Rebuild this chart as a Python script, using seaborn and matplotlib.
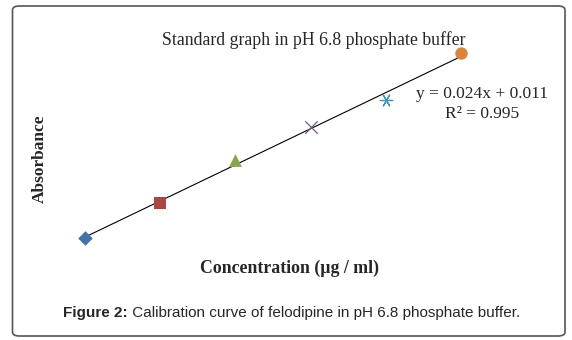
import numpy as np
import pandas as pd
import seaborn as sns
import matplotlib.pyplot as plt
from matplotlib.patches import FancyBboxPatch

# data
stezenie = [5, 10, 15, 20, 25, 30]
absorbancja = [0.128, 0.243, 0.384, 0.493, 0.581, 0.733]
kolory = ['#4572A7', '#AA4643', '#89A54E', '#71588F', '#4198AF', '#DB843D']
markery = ['D', 's', '^', 'x', (6, 2, 90), 'o']
rozmiary = [55, 85, 85, 80, 80, 80]

tytul = 'Standard graph in pH 6.8 phosphate buffer'
rownanie = 'y = 0.024x + 0.011\nR² = 0.995'
opis_x = 'Concentration (µg / ml)'
opis_y = 'Absorbance'
podpis_b = 'Figure 2:'
podpis = ' Calibration curve of felodipine in pH 6.8 phosphate buffer.'

df = pd.DataFrame({'conc': stezenie, 'abs': absorbancja})

sns.set_style('white')
plt.rcParams['font.family'] = ['Liberation Serif', 'DejaVu Serif']

fig = plt.figure(figsize=(5.72, 3.4), dpi=100)
ax = fig.add_axes([60 / 572, 1 - 250 / 340, 420 / 572, 220 / 340])

sns.regplot(data=df, x='conc', y='abs', ax=ax, scatter=False, ci=None, truncate=True,
            line_kws={'color': 'black', 'linewidth': 0.8})
for i in range(len(stezenie)):
    liniowy = markery[i] in ['x', (6, 2, 90)]
    sns.scatterplot(x=[stezenie[i]], y=[absorbancja[i]], ax=ax, marker=markery[i], color=kolory[i],
                    s=rozmiary[i], linewidth=0.9 if liniowy else 0, zorder=3)

ax.set_xlim(3.34, 31.26)
ax.set_ylim(0.0884, 0.810)
ax.set_xticks([])
ax.set_yticks([])
ax.set_xlabel('')
ax.set_ylabel('')
for s in ax.spines.values():
    s.set_visible(False)

fig.text(314 / 572, 1 - 40 / 340, tytul, ha='center', va='center', fontsize=12.8)
fig.text(482 / 572, 1 - 104 / 340, rownanie, ha='center', va='center', fontsize=12.5, linespacing=1.25)
fig.text(290 / 572, 1 - 268 / 340, opis_x, ha='center', va='center', fontsize=12.8, fontweight='bold')
fig.text(40 / 572, 1 - 159 / 340, opis_y, ha='center', va='center', fontsize=12.5, fontweight='bold',
         rotation=90)

# caption: bold part + regular part
r = fig.canvas.get_renderer()
t1 = fig.text(63 / 572, 1 - 313 / 340, podpis_b, ha='left', va='center', fontsize=11,
              fontweight='bold', family=['Liberation Sans', 'DejaVu Sans'])
w = t1.get_window_extent(renderer=r).width
fig.text(63 / 572 + w / fig.bbox.width, 1 - 313 / 340, podpis, ha='left', va='center', fontsize=11,
         family=['Liberation Sans', 'DejaVu Sans'])

ramka = FancyBboxPatch((12.5 / 572, 4 / 340), 552.5 / 572, 330 / 340, boxstyle='round,pad=0,rounding_size=0.012',
                       transform=fig.transFigure, facecolor='none', edgecolor='#555555', linewidth=1.2)
fig.patches.append(ramka)

plt.savefig('out.png', dpi=100)
